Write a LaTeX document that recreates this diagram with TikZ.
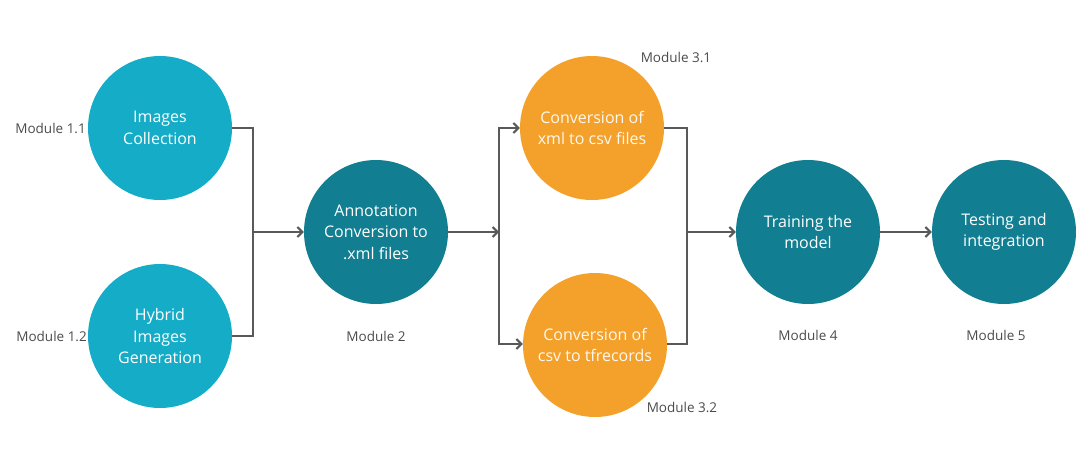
\documentclass[tikz,border=0pt]{standalone}
\usepackage{fontspec}
\setmainfont{Open Sans}
\usetikzlibrary{arrows.meta}
\definecolor{lteal}{HTML}{14ACC7}
\definecolor{dteal}{HTML}{127E91}
\definecolor{orng}{HTML}{F4A12B}
\definecolor{linegray}{HTML}{595959}
\definecolor{labgray}{HTML}{4A4A4A}
\begin{document}
\begin{tikzpicture}[x=1pt,y=-1pt,
  bubble/.style={circle,minimum size=144pt,inner sep=0pt,text=white,align=center,font=\fontsize{16}{21.5}\selectfont},
  light/.style={bubble,fill=lteal},
  dark/.style={bubble,fill=dteal},
  orange/.style={bubble,fill=orng,text=white!92!orng},
  modlabel/.style={text=labgray,font=\fontsize{13.5}{15}\selectfont,inner sep=0pt},
  conn/.style={draw=linegray,line width=2.1pt},
  arr/.style={conn,-{Straight Barb[length=5pt,width=10pt,line width=2pt]}}]
\useasboundingbox (0,0) rectangle (1088,474);
\node[light] (c11) at (160,128) {Images\\Collection};
\node[light] (c12) at (160,336) {Hybrid\\Images\\Generation};
\node[dark] (c2) at (376,232) {Annotation\\Conversion to\\.xml files};
\node[orange] (c31) at (592,128) {Conversion of\\xml to csv files};
\node[orange] (c32) at (595,345) {Conversion of\\csv to tfrecords};
\node[dark] (c4) at (808,232) {Training the\\model};
\node[dark] (c5) at (1004,232) {Testing and\\integration};
\node[modlabel,anchor=east] (l11) at (86,128) {Module 1.1};
\node[modlabel,anchor=east] (l12) at (87,336) {Module 1.2};
\node[modlabel] (l2) at (376,336) {Module 2};
\node[modlabel] (l31) at (676,57) {Module 3.1};
\node[modlabel] (l32) at (682,407) {Module 3.2};
\node[modlabel] (l4) at (808,335) {Module 4};
\node[modlabel] (l5) at (996,335) {Module 5};
\coordinate (j1) at (253,232);
\coordinate (j2) at (499,232);
\coordinate (j3) at (687,232);
\draw[conn] (c11.east) -| (j1) |- (c12.east);
\draw[arr] (j1) -- (c2.west);
\draw[arr] (c2.east) -- (j2);
\draw[arr] (j2) |- (c31.west);
\draw[arr] (j2) |- ([yshift=1pt]c32.west);
\draw[conn] (c31.east) -| (j3) |- ([yshift=1pt]c32.east);
\draw[arr] (j3) -- (c4.west);
\draw[arr] (c4.east) -- (c5.west);
\end{tikzpicture}
\end{document}
